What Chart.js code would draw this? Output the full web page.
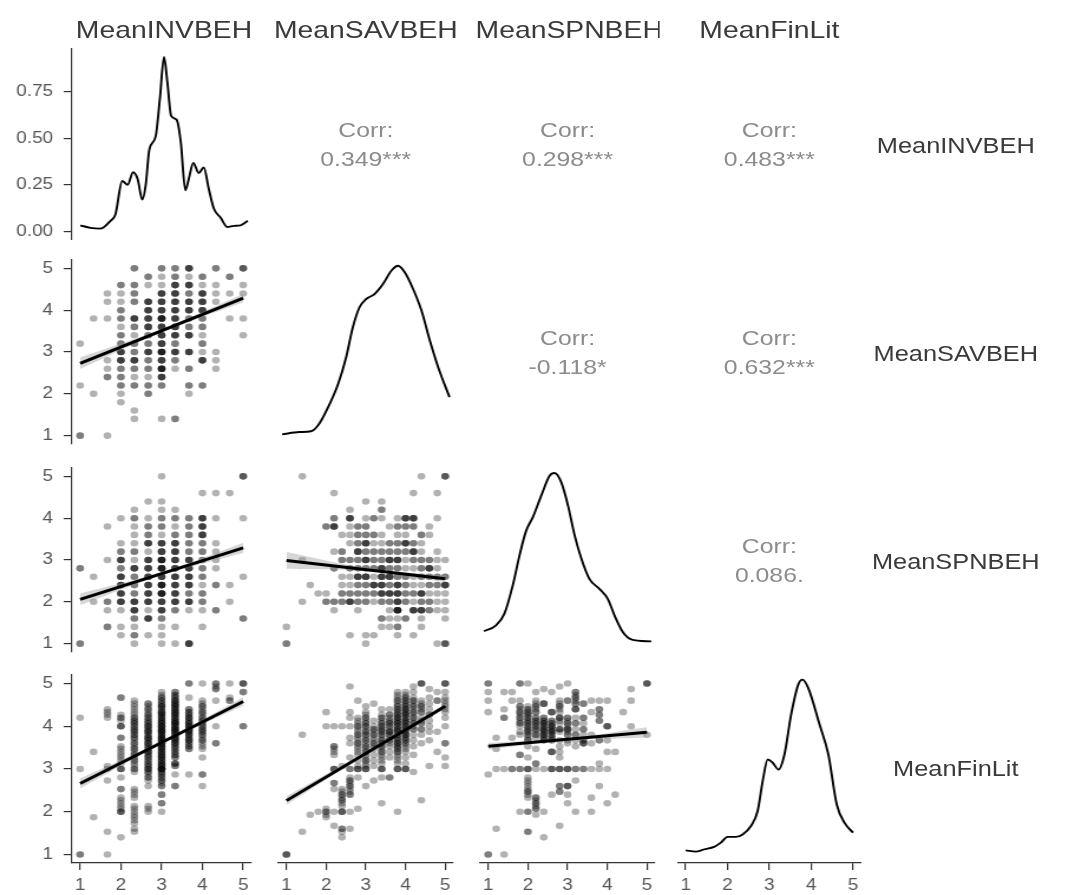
<!DOCTYPE html>
<html>
<head>
<meta charset="utf-8">
<script src="https://cdn.jsdelivr.net/npm/chart.js@4.4.1/dist/chart.umd.min.js"></script>
<style>
  html, body { margin: 0; padding: 0; background: #fff; }
  body { width: 1069px; height: 895px; overflow: hidden; position: relative; }
  #fig { position: absolute; left: 0; top: 0; width: 906px; height: 895px;
         transform: scaleX(1.18); transform-origin: 0 0;
         font-family: "Liberation Sans", Arial, sans-serif; }
  #fig canvas { position: absolute; }
  .strip { position: absolute; white-space: nowrap; overflow: hidden; text-align: center; color: #3a3a3a; }
  .corr { position: absolute; text-align: center; color: #8c8c8c; font-size: 21px; line-height: 29px; }
</style>
</head>
<body>
<div id="fig"></div>
<script>
// variables of the pairs matrix
const vars = ['MeanINVBEH', 'MeanSAVBEH', 'MeanSPNBEH', 'MeanFinLit'];
const axisTicks = [1, 2, 3, 4, 5];
const densTicks = [0, 0.25, 0.5, 0.75];

// upper triangle: [row, col, label]
const corrCells = [
  [0, 1, '0.349***'], [0, 2, '0.298***'], [0, 3, '0.483***'],
  [1, 2, '-0.118*'], [1, 3, '0.632***'],
  [2, 3, '0.086.']
];

// kernel density of MeanINVBEH (density units)
const invDensity = [[1.0,0.032],[1.24,0.018],[1.48,0.014],[1.72,0.056],[1.84,0.092],[2.0,0.27],[2.13,0.25],
  [2.26,0.317],[2.37,0.28],[2.48,0.17],[2.56,0.245],[2.65,0.44],[2.8,0.51],[2.9,0.71],[3.0,0.937],[3.08,0.8],
  [3.17,0.62],[3.3,0.6],[3.4,0.48],[3.51,0.22],[3.59,0.28],[3.7,0.367],[3.83,0.313],[3.95,0.343],[4.07,0.227],
  [4.19,0.122],[4.35,0.074],[4.51,0.023],[4.67,0.029],[4.83,0.032],[5.0,0.056]];
// the other diagonal densities, as share of panel height
const savDensity = [[1.0,0.071],[1.41,0.083],[1.69,0.087],[1.86,0.118],[2.1,0.213],[2.34,0.335],[2.53,0.473],
  [2.69,0.629],[2.85,0.733],[3.01,0.776],[3.21,0.802],[3.41,0.854],[3.61,0.923],[3.77,0.949],[3.93,0.915],
  [4.13,0.828],[4.33,0.716],[4.53,0.56],[4.73,0.421],[5.0,0.265]];
const spnDensity = [[1.0,0.129],[1.29,0.16],[1.49,0.221],[1.69,0.368],[1.85,0.523],[2.01,0.653],[2.17,0.723],
  [2.37,0.835],[2.57,0.939],[2.69,0.953],[2.85,0.904],[3.01,0.783],[3.17,0.627],[3.33,0.506],[3.52,0.402],
  [3.76,0.35],[3.96,0.298],[4.12,0.212],[4.32,0.125],[4.52,0.087],[5.0,0.076]];
const finDensity = [[1.0,0.066],[1.24,0.059],[1.44,0.071],[1.68,0.084],[1.84,0.106],[2.0,0.136],[2.2,0.136],
  [2.36,0.149],[2.56,0.193],[2.72,0.271],[2.84,0.426],[2.96,0.539],[3.08,0.522],[3.22,0.487],[3.36,0.565],
  [3.52,0.773],[3.69,0.929],[3.79,0.955],[3.93,0.911],[4.2,0.721],[4.41,0.565],[4.61,0.305],[4.81,0.205],[5.0,0.158]];

// scatter cells: [x, y, number of respondents]
const invSav = [
  [2.33,5,2],[3,5,2],[3.33,5,2],[3.67,5,4],[4.33,5,2],[5,5,3],
  [2.67,4.8,2],[3,4.8,1],[3.33,4.8,2],[3.67,4.8,1],[4,4.8,2],[4.67,4.8,2],
  [2,4.6,2],[2.33,4.6,2],[2.67,4.6,1],[3,4.6,1],[3.33,4.6,4],[3.67,4.6,4],[4,4.6,1],[4.33,4.6,1],[5,4.6,1],
  [1.67,4.4,1],[2,4.4,1],[2.33,4.4,2],[3,4.4,4],[3.33,4.4,4],[3.67,4.4,2],[4,4.4,4],[4.33,4.4,1],[4.67,4.4,1],[5,4.4,1],
  [1.67,4.2,1],[2,4.2,1],[2.33,4.2,2],[2.67,4.2,4],[3,4.2,4],[3.33,4.2,4],[3.67,4.2,4],[4,4.2,4],[4.33,4.2,1],
  [2,4,2],[2.67,4,4],[3,4,4],[3.33,4,4],[3.67,4,4],[4,4,4],
  [1.33,3.8,1],[1.67,3.8,1],[2,3.8,2],[2.33,3.8,4],[2.67,3.8,4],[3,3.8,6],[3.33,3.8,4],[3.67,3.8,2],[4,3.8,2],[4.67,3.8,1],[5,3.8,1],
  [2,3.6,1],[2.33,3.6,2],[2.67,3.6,4],[3,3.6,4],[3.33,3.6,4],[3.67,3.6,2],[4,3.6,2],
  [2,3.4,2],[2.33,3.4,1],[2.67,3.4,2],[3,3.4,4],[3.33,3.4,4],[3.67,3.4,4],[4,3.4,1],[5,3.4,1],
  [1,3.2,1],[2,3.2,2],[2.33,3.2,2],[2.67,3.2,2],[3,3.2,4],[3.33,3.2,2],[4,3.2,2],
  [2,3,4],[2.33,3,2],[2.67,3,4],[3,3,6],[3.33,3,4],[3.67,3,4],[4,3,1],[4.33,3,1],
  [1.67,2.8,1],[2,2.8,4],[2.33,2.8,4],[2.67,2.8,2],[3,2.8,4],[3.33,2.8,2],[4,2.8,4],[4.33,2.8,1],
  [1.67,2.6,1],[2,2.6,2],[2.33,2.6,2],[2.67,2.6,2],[3,2.6,6],[3.33,2.6,1],[3.67,2.6,2],[4.33,2.6,1],
  [1.67,2.4,2],[2,2.4,2],[2.33,2.4,1],[2.67,2.4,1],[3,2.4,4],
  [1,2.2,1],[2,2.2,2],[2.33,2.2,2],[2.67,2.2,2],[3,2.2,2],[3.67,2.2,2],[4,2.2,2],
  [1.33,2,1],[2,2,1],[2.67,2,2],[3.67,2,1],
  [2,1.8,1],[2.33,1.6,1],[2.33,1.4,1],[3,1.4,1],[3.33,1.4,2],
  [1,1,2],[1.67,1,1]
];
const invSpn = [
  [3,5,1],[5,5,3],
  [4,4.6,1],[4.33,4.6,1],[4.67,4.6,1],
  [2.67,4.4,1],[3,4.4,1],
  [2.33,4.2,1],[3,4.2,1],[3.33,4.2,1],
  [2,4,1],[2.33,4,2],[2.67,4,1],[3,4,2],[3.33,4,2],[3.67,4,2],[4,4,4],[4.33,4,1],[5,4,1],
  [1.67,3.8,1],[2.33,3.8,1],[2.67,3.8,2],[3,3.8,2],[3.33,3.8,1],[3.67,3.8,2],[4,3.8,4],
  [2.33,3.6,1],[2.67,3.6,2],[3,3.6,1],[3.33,3.6,2],[3.67,3.6,2],[4,3.6,4],
  [2,3.4,1],[2.33,3.4,1],[2.67,3.4,4],[3,3.4,4],[3.33,3.4,4],[3.67,3.4,2],[4,3.4,2],[4.33,3.4,1],
  [2,3.2,2],[2.33,3.2,2],[2.67,3.2,1],[3,3.2,4],[3.33,3.2,4],[3.67,3.2,2],[4,3.2,2],[4.33,3.2,1],
  [1.67,3,1],[2,3,4],[2.33,3,1],[2.67,3,4],[3,3,6],[3.33,3,4],[3.67,3,4],[4,3,2],[4.33,3,1],
  [1,2.8,2],[2,2.8,2],[2.33,2.8,4],[2.67,2.8,4],[3,2.8,6],[3.33,2.8,4],[3.67,2.8,4],[4,2.8,2],[4.33,2.8,1],
  [1.33,2.6,1],[2,2.6,4],[2.33,2.6,2],[2.67,2.6,4],[3,2.6,4],[3.33,2.6,4],[3.67,2.6,4],[4,2.6,2],[5,2.6,1],
  [2,2.4,4],[2.33,2.4,2],[2.67,2.4,4],[3,2.4,6],[3.33,2.4,4],[3.67,2.4,4],[4,2.4,1],[4.33,2.4,2],[4.67,2.4,1],
  [2,2.2,4],[2.33,2.2,2],[2.67,2.2,4],[3,2.2,6],[3.33,2.2,4],[3.67,2.2,2],[4,2.2,2],
  [1.33,2,1],[1.67,2,2],[2,2,4],[2.33,2,4],[2.67,2,4],[3,2,4],[3.33,2,4],[3.67,2,4],[4,2,2],[4.67,2,1],
  [1.67,1.8,1],[2,1.8,1],[2.33,1.8,4],[2.67,1.8,1],[3,1.8,4],[3.33,1.8,2],[3.67,1.8,1],[4,1.8,1],[4.33,1.8,2],
  [2.33,1.6,2],[2.67,1.6,4],[3,1.6,2],[5,1.6,2],
  [1.67,1.4,2],[2,1.4,1],[2.33,1.4,1],[3,1.4,1],[3.33,1.4,1],[4,1.4,1],
  [2,1.2,1],[2.33,1.2,2],[2.67,1.2,1],[3,1.2,1],
  [1,1,2],[2.33,1,1],[3,1,1],[3.33,1,1],[3.67,1,4]
];
const savSpn = [
  [1.4,5,1],[4.4,5,1],[5,5,3],
  [2.2,4.6,1],[4.2,4.6,1],[4.8,4.6,1],
  [3,4.4,1],[3.4,4.4,1],
  [2.6,4.2,1],[3.4,4.2,2],
  [2.2,4,2],[2.6,4,4],[3,4,1],[3.2,4,2],[3.4,4,1],[3.8,4,1],[4,4,4],[4.2,4,4],[4.8,4,1],
  [2,3.8,2],[2.2,3.8,4],[2.6,3.8,1],[2.8,3.8,2],[3,3.8,2],[3.6,3.8,1],[3.8,3.8,2],[4,3.8,2],[4.2,3.8,2],[4.6,3.8,1],
  [2.4,3.6,1],[2.6,3.6,1],[2.8,3.6,2],[3,3.6,2],[3.2,3.6,2],[3.4,3.6,1],[3.8,3.6,1],[4,3.6,1],[4.4,3.6,2],[4.6,3.6,1],
  [2.6,3.4,1],[2.8,3.4,2],[3,3.4,4],[3.2,3.4,1],[3.4,3.4,1],[3.6,3.4,2],[3.8,3.4,2],[4,3.4,4],[4.2,3.4,2],[4.4,3.4,1],
  [2.2,3.2,1],[2.4,3.2,2],[2.8,3.2,4],[3,3.2,2],[3.2,3.2,2],[3.4,3.2,2],[3.6,3.2,2],[3.8,3.2,2],[4,3.2,2],[4.2,3.2,4],[4.4,3.2,1],[4.8,3.2,1],
  [1.4,3,1],[2.4,3,2],[2.6,3,2],[2.8,3,2],[3,3,4],[3.2,3,2],[3.4,3,2],[3.6,3,4],[3.8,3,4],[4,3,1],[4.2,3,2],[4.4,3,2],[4.6,3,2],[4.8,3,1],[5,3,1],
  [2.2,2.8,2],[2.6,2.8,2],[2.8,2.8,2],[3,2.8,2],[3.2,2.8,2],[3.4,2.8,4],[3.6,2.8,2],[3.8,2.8,2],[4,2.8,1],[4.2,2.8,1],[4.4,2.8,2],[4.6,2.8,4],[4.8,2.8,1],
  [2.4,2.6,1],[2.6,2.6,1],[2.8,2.6,4],[3,2.6,4],[3.2,2.6,1],[3.4,2.6,4],[3.6,2.6,4],[3.8,2.6,2],[4,2.6,2],[4.2,2.6,1],[4.4,2.6,2],[4.6,2.6,2],[4.8,2.6,2],[5,2.6,2],
  [1.6,2.4,1],[2.4,2.4,1],[2.6,2.4,1],[2.8,2.4,2],[3,2.4,2],[3.2,2.4,4],[3.4,2.4,4],[3.6,2.4,2],[3.8,2.4,4],[4,2.4,2],[4.2,2.4,1],[4.4,2.4,1],[4.6,2.4,2],[4.8,2.4,2],[5,2.4,4],
  [1.8,2.2,1],[2,2.2,1],[2.4,2.2,2],[2.6,2.2,2],[2.8,2.2,2],[3,2.2,2],[3.2,2.2,2],[3.4,2.2,4],[3.6,2.2,4],[3.8,2.2,4],[4,2.2,2],[4.2,2.2,2],[4.4,2.2,4],[4.6,2.2,1],[4.8,2.2,1],[5,2.2,1],
  [1.4,2,1],[2,2,2],[2.2,2,2],[2.4,2,2],[2.6,2,4],[2.8,2,2],[3,2,2],[3.2,2,1],[3.4,2,2],[3.6,2,2],[3.8,2,4],[4,2,2],[4.2,2,1],[4.4,2,2],[4.6,2,2],[4.8,2,1],[5,2,1],
  [2.2,1.8,1],[2.8,1.8,1],[3.6,1.8,1],[3.8,1.8,6],[4.2,1.8,4],[4.4,1.8,4],[4.6,1.8,2],[4.8,1.8,1],[5,1.8,1],
  [3.4,1.6,2],[3.6,1.6,1],[3.8,1.6,1],[4,1.6,2],[4.4,1.6,1],[5,1.6,1],
  [1,1.4,1],[3.4,1.4,1],[3.6,1.4,1],[3.8,1.4,2],[4.4,1.4,1],
  [2.6,1.2,1],[3,1.2,1],[3.2,1.2,1],[3.8,1.2,1],[4.2,1.2,1],
  [1,1,2],[3,1,1],[4.8,1,1],[5,1,3]
];
const invFin = [
  [1,4.2,1],[1,3,1],[1,1,2],
  [1.33,3.4,1],[1.33,1.87,1],
  [1.67,4.4,1],[1.67,4.33,1],[1.67,4.27,1],[1.67,4.2,1],[1.67,3.07,1],[1.67,3,1],[1.67,2.73,1],[1.67,1.53,1],[1.67,1,1],
  [2,4.67,2],[2,4.27,1],[2,4.2,2],[2,4.13,1],[2,4,3],[2,3.73,2],[2,3.53,1],[2,3.47,1],[2,3.4,1],[2,3.33,1],[2,3.27,1],
  [2,3.2,1],[2,3.13,1],[2,3,3],[2,2.8,1],[2,2.53,2],[2,2.33,1],[2,2.27,1],[2,2.2,1],[2,2.13,1],[2,2.07,1],[2,2,3],[2,1.4,1],
  [2.33,4.6,1],[2.33,4.53,1],[2.33,4.47,1],[2.33,4.4,1],[2.33,4.33,1],[2.33,4.27,1],[2.33,4.2,2],[2.33,4.13,2],[2.33,4.07,2],
  [2.33,4,2],[2.33,3.93,2],[2.33,3.87,2],[2.33,3.8,2],[2.33,3.73,2],[2.33,3.67,1],[2.33,3.6,2],[2.33,3.53,1],[2.33,3.47,2],
  [2.33,3.4,1],[2.33,3.33,2],[2.33,3.27,1],[2.33,3.2,2],[2.33,3.13,1],[2.33,3.07,1],[2.33,3,2],[2.33,2.93,1],
  [2.33,2.53,1],[2.33,2.47,1],[2.33,2.4,1],[2.33,2.33,1],[2.33,2.13,1],[2.33,2.07,1],[2.33,2,1],
  [2.33,1.93,1],[2.33,1.87,1],[2.33,1.8,1],[2.33,1.73,1],[2.33,1.6,1],[2.33,1.53,1],
  [2.67,4.53,2],[2.67,4.47,1],[2.67,4.4,2],[2.67,4.33,1],[2.67,4.27,2],[2.67,4.2,2],[2.67,4.13,2],[2.67,4.07,2],[2.67,4,3],
  [2.67,3.93,2],[2.67,3.87,3],[2.67,3.8,2],[2.67,3.73,3],[2.67,3.67,2],[2.67,3.6,3],[2.67,3.53,2],[2.67,3.47,2],[2.67,3.4,3],
  [2.67,3.33,2],[2.67,3.27,2],[2.67,3.2,2],[2.67,3.13,2],[2.67,3.07,2],[2.67,3,3],[2.67,2.93,2],[2.67,2.87,1],[2.67,2.8,2],
  [2.67,2.73,1],[2.67,2.6,1],[2.67,2.13,1],[2.67,2.07,1],[2.67,2,1],
  [3,4.8,1],[3,4.73,1],[3,4.67,2],[3,4.6,2],[3,4.53,2],[3,4.47,3],[3,4.4,2],[3,4.33,3],[3,4.27,3],[3,4.2,3],[3,4.13,3],
  [3,4.07,3],[3,4,4],[3,3.93,3],[3,3.87,4],[3,3.8,3],[3,3.73,4],[3,3.67,3],[3,3.6,4],[3,3.53,3],[3,3.47,3],[3,3.4,3],
  [3,3.33,3],[3,3.27,3],[3,3.2,3],[3,3.13,3],[3,3.07,3],[3,3,6],[3,2.93,2],[3,2.87,2],[3,2.8,2],[3,2.73,2],[3,2.67,1],
  [3,2.6,2],[3,2.4,2],[3,2.2,2],[3,2,1],
  [3.33,4.8,2],[3.33,4.73,2],[3.33,4.67,2],[3.33,4.6,3],[3.33,4.53,3],[3.33,4.47,3],[3.33,4.4,3],[3.33,4.33,3],[3.33,4.27,3],
  [3.33,4.2,3],[3.33,4.13,3],[3.33,4.07,4],[3.33,4,3],[3.33,3.93,4],[3.33,3.87,3],[3.33,3.8,3],[3.33,3.73,3],[3.33,3.67,3],
  [3.33,3.6,3],[3.33,3.53,2],[3.33,3.47,2],[3.33,3.4,2],[3.33,3.33,2],[3.33,3.27,2],[3.33,3.13,3],[3.33,3.07,2],[3.33,2.87,1],[3.33,2.6,2],
  [3.67,5,2],[3.67,4.67,1],[3.67,4.4,2],[3.67,4.33,2],[3.67,4.27,2],[3.67,4.2,3],[3.67,4.13,2],[3.67,4.07,3],[3.67,4,3],
  [3.67,3.93,3],[3.67,3.87,3],[3.67,3.8,3],[3.67,3.73,2],[3.67,3.67,3],[3.67,3.6,2],[3.67,3.53,2],[3.67,3.47,2],[3.67,2.87,1],
  [4,5,1],[4,4.6,1],[4,4.53,1],[4,4.47,2],[4,4.4,1],[4,4.33,2],[4,4.27,1],[4,4.2,2],[4,4.13,2],[4,4.07,2],[4,4,2],
  [4,3.93,2],[4,3.87,2],[4,3.8,2],[4,3.73,1],[4,3.67,2],[4,3.6,1],[4,3.53,1],[4,3.47,1],[4,3.27,1],[4,2.87,2],[4,2.6,1],
  [4.33,5,2],[4.33,4.93,1],[4.33,4.87,2],[4.33,4.6,1],[4.33,4,1],[4.33,3.6,2],
  [4.67,5,1],[4.67,4.67,1],[4.67,4.6,2],
  [5,5,3],[5,4.8,2],[5,4,2]
];
const savFin = [
  [1,1,3],
  [1.4,3.8,1],[1.4,1.53,1],[1.6,1.93,1],[1.8,2,1],
  [2,4.33,1],[2,4,1],[2,2.07,1],[2,2,2],[2,1.93,1],[2,1.87,1],
  [2.2,4,1],[2.2,3.53,2],[2.2,3.47,1],[2.2,3.4,1],[2.2,3.33,1],[2.2,3,3],[2.2,2.67,2],[2.2,2.53,1],[2.2,2,1],[2.2,1.67,1],
  [2.4,4,1],[2.4,3.07,1],[2.4,2.53,1],[2.4,2.47,1],[2.4,2.4,2],[2.4,2.33,1],[2.4,2.27,2],[2.4,2.2,1],[2.4,2.13,1],[2.4,2,3],
  [2.4,1.6,2],[2.4,1.53,1],[2.4,1.4,1],
  [2.6,4.93,1],[2.6,4.33,1],[2.6,4.2,1],[2.6,4,1],[2.6,3.73,1],[2.6,3.6,1],[2.6,3.27,1],[2.6,3,2],[2.6,2.8,1],[2.6,2.73,2],
  [2.6,2.67,1],[2.6,2.6,2],[2.6,2.53,1],[2.6,2.47,1],[2.6,2.4,2],[2.6,2,1],[2.6,1.6,1],
  [2.8,4.6,1],[2.8,4.2,1],[2.8,4.13,1],[2.8,4.07,1],[2.8,4,2],[2.8,3.93,1],[2.8,3.87,1],[2.8,3.8,2],[2.8,3.73,1],[2.8,3.67,1],
  [2.8,3.6,2],[2.8,3.53,1],[2.8,3.47,1],[2.8,3.4,1],[2.8,3.33,1],[2.8,3.2,1],[2.8,3.07,1],[2.8,3,3],[2.8,2.8,1],[2.8,2.07,1],
  [3,4.47,1],[3,4.33,1],[3,4.27,1],[3,4.2,2],[3,4.13,1],[3,4.07,2],[3,4,2],[3,3.93,1],[3,3.87,2],[3,3.8,2],[3,3.73,1],
  [3,3.67,2],[3,3.6,1],[3,3.53,2],[3,3.47,1],[3,3.4,2],[3,3.33,1],[3,3.27,1],[3,3.2,2],[3,3.13,1],[3,3.07,1],[3,3,3],[3,2.6,1],
  [3.2,4.53,1],[3.2,4.13,1],[3.2,4,1],[3.2,3.93,2],[3.2,3.87,1],[3.2,3.8,2],[3.2,3.73,1],[3.2,3.67,1],[3.2,3.6,2],[3.2,3.53,1],
  [3.2,3.47,1],[3.2,3.33,1],[3.2,3.2,1],[3.2,3.07,1],[3.2,2.73,1],
  [3.4,4.4,1],[3.4,4.27,1],[3.4,4.2,2],[3.4,4.13,1],[3.4,4.07,2],[3.4,4,2],[3.4,3.93,2],[3.4,3.87,2],[3.4,3.8,2],[3.4,3.73,1],
  [3.4,3.67,2],[3.4,3.6,2],[3.4,3.53,2],[3.4,3.47,1],[3.4,3.4,2],[3.4,3.33,1],[3.4,3.27,1],[3.4,3.2,1],[3.4,3.13,1],[3.4,3,3],
  [3.4,2.8,1],[3.4,2.2,1],
  [3.6,4.4,1],[3.6,4.27,2],[3.6,4.2,1],[3.6,4.13,2],[3.6,4.07,2],[3.6,4,2],[3.6,3.93,1],[3.6,3.87,3],[3.6,3.8,2],[3.6,3.73,1],
  [3.6,3.67,2],[3.6,3.6,1],[3.6,3.53,1],[3.6,3.4,1],[3.6,3.27,1],[3.6,2.8,2],
  [3.8,4.8,1],[3.8,4.73,1],[3.8,4.67,1],[3.8,4.6,2],[3.8,4.53,1],[3.8,4.47,2],[3.8,4.4,2],[3.8,4.33,2],[3.8,4.27,2],[3.8,4.2,3],
  [3.8,4.13,2],[3.8,4.07,3],[3.8,4,2],[3.8,3.93,3],[3.8,3.87,2],[3.8,3.8,2],[3.8,3.73,2],[3.8,3.67,2],[3.8,3.6,3],[3.8,3.53,2],
  [3.8,3.47,2],[3.8,3.4,2],[3.8,3.33,1],[3.8,3.27,1],[3.8,3.2,1],[3.8,3.13,1],[3.8,3,3],[3.8,2,1],
  [4,4.8,1],[4,4.73,1],[4,4.67,2],[4,4.6,2],[4,4.53,2],[4,4.47,2],[4,4.4,3],[4,4.33,2],[4,4.27,3],[4,4.2,2],[4,4.13,3],
  [4,4.07,2],[4,4,3],[4,3.93,2],[4,3.87,2],[4,3.8,3],[4,3.73,2],[4,3.67,2],[4,3.6,2],[4,3.53,1],[4,3.47,1],[4,3.4,1],
  [4,3.27,1],[4,3.13,1],[4,3,3],
  [4.2,4.93,1],[4.2,4.8,1],[4.2,4.67,1],[4.2,4.6,2],[4.2,4.53,1],[4.2,4.47,2],[4.2,4.4,1],[4.2,4.33,2],[4.2,4.27,1],[4.2,4.2,2],
  [4.2,4.13,1],[4.2,4.07,2],[4.2,4,1],[4.2,3.93,2],[4.2,3.8,1],[4.2,3.67,1],[4.2,3.53,1],[4.2,3.33,1],[4.2,2.93,1],
  [4.4,5,3],[4.4,4.6,1],[4.4,4.53,1],[4.4,4.47,2],[4.4,4.4,1],[4.4,4.33,2],[4.4,4.2,1],[4.4,4.13,1],[4.4,4.07,2],[4.4,3.93,2],
  [4.4,3.8,1],[4.4,3.6,1],[4.4,2.27,1],
  [4.6,4.87,1],[4.6,4.67,1],[4.6,4.53,1],[4.6,4.4,1],[4.6,4.27,2],[4.6,4.13,1],[4.6,4,1],[4.6,3.87,1],[4.6,3.67,1],[4.6,3.07,1],
  [4.8,4.8,1],[4.8,4.6,2],[4.8,3.87,1],[4.8,3.4,1],
  [5,5,3],[5,4.8,1],[5,4.67,1],[5,4.6,1],[5,4.53,1],[5,4.47,1],[5,4.4,1],[5,4.33,1],[5,4.2,1],[5,4,1],[5,3.6,2],[5,3.27,1],[5,3.07,1]
];
const spnFin = [
  [1,5,2],[1,4.8,1],[1,4.6,1],[1,4.33,1],[1,2.87,1],[1,1,2],
  [1.2,3.73,1],[1.2,3.47,1],[1.2,3,1],[1.2,1.6,1],
  [1.4,4.8,1],[1.4,4.4,1],[1.4,4.2,2],[1.4,3,1],[1.4,1,1],
  [1.6,4.8,1],[1.6,4.6,1],[1.6,3.73,1],[1.6,3,2],
  [1.8,5,2],[1.8,4.6,1],[1.8,4.47,2],[1.8,4.4,1],[1.8,4.33,2],[1.8,4.27,1],[1.8,4.2,2],[1.8,4.13,1],[1.8,4.07,2],[1.8,4,1],
  [1.8,3.87,1],[1.8,3.8,1],[1.8,3.33,2],[1.8,3,2],[1.8,2,1],
  [2,5,1],[2,4.47,1],[2,4.4,2],[2,4.33,2],[2,4.27,2],[2,4.2,2],[2,4.13,2],[2,4.07,2],[2,4,2],[2,3.93,2],[2,3.87,2],[2,3.8,2],
  [2,3.73,1],[2,3.67,2],[2,3.53,1],[2,3.27,1],[2,3,3],[2,2.8,1],[2,2.73,1],[2,2.67,1],[2,2.6,1],[2,2.53,1],[2,2.47,2],
  [2,2.4,1],[2,2.33,1],[2,2,2],[2,1.53,2],
  [2.2,4.8,1],[2.2,4.6,1],[2.2,4.53,1],[2.2,4.47,2],[2.2,4.4,1],[2.2,4.33,2],[2.2,4.2,2],[2.2,4.13,2],[2.2,4.07,2],[2.2,4,2],
  [2.2,3.93,2],[2.2,3.87,1],[2.2,3.8,2],[2.2,3.73,1],[2.2,3.47,1],[2.2,3.13,2],[2.2,3,1],[2.2,2.33,2],[2.2,2.27,1],[2.2,2.2,2],
  [2.2,2.13,1],[2.2,2.07,2],[2.2,1.93,1],
  [2.4,4.87,1],[2.4,4.53,3],[2.4,4.2,2],[2.4,4.13,2],[2.4,4.07,3],[2.4,4,2],[2.4,3.93,3],[2.4,3.87,2],[2.4,3.8,3],[2.4,3.73,2],
  [2.4,3.67,2],[2.4,3,1],[2.4,2,1],[2.4,1.4,1],
  [2.6,4.8,1],[2.6,4.33,3],[2.6,4.13,2],[2.6,4.07,2],[2.6,4,3],[2.6,3.93,2],[2.6,3.87,3],[2.6,3.8,2],[2.6,3.73,2],[2.6,3.67,2],
  [2.6,3.4,3],[2.6,3,3],[2.6,2.4,1],
  [2.8,4.93,1],[2.8,4.6,1],[2.8,4.53,1],[2.8,4.47,2],[2.8,4.4,1],[2.8,4.33,1],[2.8,4.2,3],[2.8,4.13,1],[2.8,4.07,1],[2.8,3.93,3],
  [2.8,3.87,1],[2.8,3.67,1],[2.8,3.53,1],[2.8,3.4,1],[2.8,3.27,1],[2.8,3,3],[2.8,2.6,2],[2.8,2.47,2],[2.8,1.67,1],
  [3,5,1],[3,4.6,2],[3,4.2,2],[3,4.13,1],[3,4.07,2],[3,4,1],[3,3.93,3],[3,3.87,1],[3,3.8,2],[3,3.67,1],[3,3.6,1],[3,3,3],
  [3,2.6,3],[3,2.4,1],[3,2.2,1],
  [3.2,4.8,2],[3.2,4.73,1],[3.2,4.67,2],[3.2,4.6,1],[3.2,4.53,2],[3.2,4.4,3],[3.2,4.2,1],[3.2,4.07,2],[3.2,3.93,1],[3.2,3.8,2],
  [3.2,3.67,1],[3.2,3.53,1],[3.2,3,2],[3.2,2.73,1],[3.2,2,1],
  [3.4,4.53,2],[3.4,4.2,2],[3.4,4.07,1],[3.4,3.93,2],[3.4,3.8,1],[3.4,3.67,2],[3.4,3.6,3],[3.4,3,2],
  [3.6,4.6,1],[3.6,4.33,1],[3.6,3.8,1],[3.6,3.6,1],[3.6,3,1],[3.6,2.33,1],[3.6,2,1],
  [3.8,4.6,1],[3.8,4.4,2],[3.8,4.27,2],[3.8,4.13,2],[3.8,3.67,2],[3.8,3.13,1],[3.8,3,1],[3.8,2.6,1],
  [4,4.6,1],[4,4,3],[4,3.67,1],[4,3.4,1],[4,3,1],[4,2.2,1],
  [4.2,3.4,1],[4.2,2.4,1],[4.4,4.33,1],
  [4.6,4.87,1],[4.6,4.6,1],[4.6,4,1],
  [5,5,3],[5,3.8,1]
];

// linear fits: fitted y at x = 1 and x = 5, and half-width of the band at x = 1, 3, 5
const invSavFit = [2.73, 4.29], invSavBand = [0.14, 0.04, 0.10];
const invSpnFit = [2.06, 3.29], invSpnBand = [0.14, 0.04, 0.12];
const invFinFit = [2.66, 4.58], invFinBand = [0.12, 0.03, 0.10];
const savSpnFit = [2.99, 2.55], savSpnBand = [0.20, 0.04, 0.08];
const savFinFit = [2.26, 4.47], savFinBand = [0.10, 0.03, 0.06];
const spnFinFit = [3.53, 3.86], spnFinBand = [0.08, 0.03, 0.12];

// layout of the matrix (in the unstretched frame)
const PX0 = 61, PW = 156, PXSTEP = 171;
const PY0 = 48, PH = 192, PYSTEP = 207.75;
const AXW = 61, AXH = 31;
const fig = document.getElementById('fig');
const FONT = '"Liberation Sans", Arial, sans-serif';

function scale(min, max, ticks, show, isX, fmt) {
  return {
    type: 'linear', min, max, display: show,
    position: isX ? 'bottom' : 'left',
    afterBuildTicks: s => { s.ticks = ticks.map(v => ({ value: v })); },
    afterFit: s => {
      if (!show) { s.width = 0; s.height = 0; }
      else if (isX) s.height = AXH;
      else s.width = AXW;
      s.paddingTop = 0; s.paddingBottom = 0; s.paddingLeft = 0; s.paddingRight = 0;
    },
    grid: { display: show, drawOnChartArea: false, drawTicks: true, tickLength: 7, color: '#333', lineWidth: 1.2 },
    border: { display: show, color: '#333', width: 1.2 },
    ticks: { font: { family: FONT, size: 16 }, color: '#555', padding: isX ? 6 : 9,
             autoSkip: false, maxRotation: 0, callback: fmt || (v => v) }
  };
}

function panel(row, col, datasets, yScale) {
  const showY = col === 0, showX = row === 3;
  const cv = document.createElement('canvas');
  const w = PW + (showY ? AXW : 0), h = PH + (showX ? AXH : 0);
  cv.width = w; cv.height = h;
  cv.style.left = (PX0 + col * PXSTEP - (showY ? AXW : 0)) + 'px';
  cv.style.top = (PY0 + row * PYSTEP) + 'px';
  cv.style.width = w + 'px'; cv.style.height = h + 'px';
  fig.appendChild(cv);
  return new Chart(cv, {
    type: 'scatter',
    data: { datasets },
    options: {
      responsive: false, animation: false, events: [],
      devicePixelRatio: 1,
      layout: { padding: 0 },
      plugins: { legend: { display: false }, tooltip: { enabled: false } },
      scales: {
        x: scale(0.8, 5.2, axisTicks, showX, true),
        y: yScale || scale(0.8, 5.2, axisTicks, showY, false)
      }
    }
  });
}

const toXY = arr => arr.map(([x, y]) => ({ x, y }));

function densityPanel(i, dens, yScale) {
  panel(i, i, [{
    type: 'line', data: toXY(dens), borderColor: '#000', borderWidth: 1.9,
    pointRadius: 0, cubicInterpolationMode: 'monotone', fill: false
  }], yScale);
}

function scatterPanel(row, col, pts, fit, band) {
  const mid = (fit[0] + fit[1]) / 2;
  const centre = [fit[0], mid, fit[1]];
  const bx = [1, 3, 5];
  const hi = bx.map((x, k) => ({ x, y: centre[k] + band[k] }));
  const lo = bx.map((x, k) => ({ x, y: centre[k] - band[k] }));
  panel(row, col, [
    { type: 'line', data: [{ x: 1, y: fit[0] }, { x: 5, y: fit[1] }], borderColor: '#000',
      borderWidth: 3, pointRadius: 0, order: 1 },
    { type: 'line', data: hi, borderWidth: 0, pointRadius: 0, tension: 0.4,
      fill: '+1', backgroundColor: 'rgba(153,153,153,0.4)', order: 2 },
    { type: 'line', data: lo, borderWidth: 0, pointRadius: 0, tension: 0.4, fill: false, order: 2 },
    { type: 'scatter', data: pts.flatMap(([x, y, n]) => Array.from({ length: n }, () => ({ x, y }))),
      pointRadius: 3.3, pointBackgroundColor: 'rgba(0,0,0,0.3)', pointBorderWidth: 0,
      pointBorderColor: 'rgba(0,0,0,0)', order: 3 }
  ]);
}

// diagonal
densityPanel(0, invDensity, scale(-0.047, 0.985, densTicks, true, false, v => v.toFixed(2)));
densityPanel(1, savDensity, scale(0, 1, [], false, false));
densityPanel(2, spnDensity, scale(0, 1, [], false, false));
densityPanel(3, finDensity, scale(0, 1, [], false, false));

// lower triangle
scatterPanel(1, 0, invSav, invSavFit, invSavBand);
scatterPanel(2, 0, invSpn, invSpnFit, invSpnBand);
scatterPanel(3, 0, invFin, invFinFit, invFinBand);
scatterPanel(2, 1, savSpn, savSpnFit, savSpnBand);
scatterPanel(3, 1, savFin, savFinFit, savFinBand);
scatterPanel(3, 2, spnFin, spnFinFit, spnFinBand);

// upper triangle
corrCells.forEach(([r, c, txt]) => {
  const d = document.createElement('div');
  d.className = 'corr';
  d.style.left = (PX0 + c * PXSTEP) + 'px';
  d.style.width = PW + 'px';
  d.style.top = (PY0 + r * PYSTEP + PH / 2 - 29) + 'px';
  d.innerHTML = 'Corr:<br>' + txt;
  fig.appendChild(d);
});

// strip labels
vars.forEach((name, i) => {
  const top = document.createElement('div');
  top.className = 'strip';
  top.textContent = name;
  Object.assign(top.style, { left: (PX0 + i * PXSTEP) + 'px', top: '14px', width: PW + 'px',
    fontSize: '24px', lineHeight: '32px' });
  fig.appendChild(top);
  const side = document.createElement('div');
  side.className = 'strip';
  side.textContent = name;
  Object.assign(side.style, { left: '730px', width: '160px', top: (PY0 + i * PYSTEP + PH / 2 - 14) + 'px',
    fontSize: '21.5px', lineHeight: '32px' });
  fig.appendChild(side);
});
</script>
</body>
</html>
